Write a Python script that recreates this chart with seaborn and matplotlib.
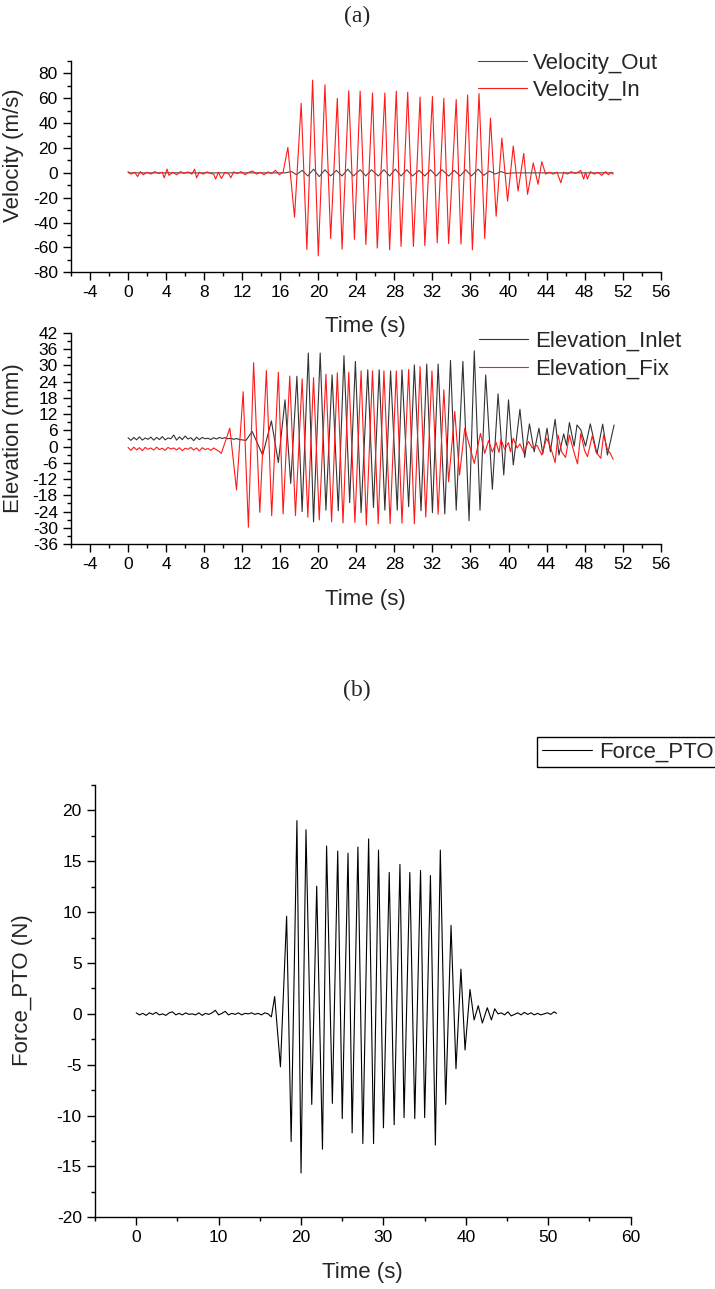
import numpy as np
import pandas as pd
import matplotlib
matplotlib.use("Agg")
import matplotlib.pyplot as plt
from matplotlib.ticker import MultipleLocator
import seaborn as sns

# ---------------- data ----------------
# Panel (a) top: Velocity_In (red)
VIN_NOISE_T = [0.0, 0.3, 0.7, 1.0, 1.3, 1.6, 2.0, 2.4, 2.8, 3.2, 3.6, 3.8, 4.1, 4.3, 4.7, 5.1,
               5.5, 5.9, 6.3, 6.7, 7.0, 7.2, 7.5, 7.9, 8.3, 8.7, 9.0, 9.2, 9.5, 9.8, 10.2, 10.6,
               10.8, 11.1, 11.5, 11.9, 12.3, 12.7, 13.1, 13.5, 13.9, 14.3, 14.7, 15.1, 15.5,
               15.9, 16.3]
VIN_NOISE_V = [1.0, -1.0, 0.5, -3.0, 1.0, -1.5, 0.5, -1.0, 1.0, -0.5, 0.5, -4.0, 3.0, -2.0, 0.5,
               -1.5, 1.0, -0.5, 0.8, -1.0, 3.0, -4.0, 0.5, -1.0, 0.8, -0.5, -1.0, -5.0, 0.5, -4.5,
               0.5, -1.0, -4.0, 0.8, -0.5, 1.0, -1.5, 0.5, 1.5, -1.0, 0.5, -1.5, 0.8, -0.5, 2.0,
               -1.5, 0.5]
VIN_WAVE_T = [16.8, 17.5, 18.2, 18.8, 19.4, 20.0, 20.7, 21.3, 22.0, 22.5, 23.2, 23.8, 24.4, 25.0,
              25.7, 26.2, 27.0, 27.5, 28.2, 28.7, 29.4, 30.0, 30.7, 31.2, 32.0, 32.5, 33.2, 33.7,
              34.5, 35.0, 35.7, 36.2, 36.9, 37.5, 38.1, 38.7, 39.3, 39.9, 40.5, 41.0, 41.6, 42.0,
              42.6, 43.1, 43.5]
VIN_WAVE_V = [20.5, -35.7, 56.0, -61.6, 74.6, -66.8, 70.8, -52.7, 60.0, -61.4, 66.0, -53.5, 65.7,
              -57.6, 64.3, -60.5, 64.3, -61.9, 65.7, -59.2, 64.9, -59.2, 61.0, -58.6, 61.4, -56.2,
              60.0, -56.8, 59.0, -57.3, 62.7, -61.9, 63.8, -52.7, 44.0, -34.9, 28.0, -22.7, 21.6,
              -14.6, 15.7, -17.3, 8.0, -9.2, 9.0]
VIN_TAIL_T = [43.9, 44.3, 44.7, 45.1, 45.5, 45.8, 46.2, 46.6, 47.0, 47.4, 47.6, 47.9, 48.1, 48.3,
              48.6, 49.0, 49.4, 49.8, 50.2, 50.5, 50.8, 51.0]
VIN_TAIL_V = [-1.0, 0.5, -1.0, 0.5, -8.0, 0.5, -1.0, 1.0, -0.5, 1.0, 2.0, -5.0, 0.5, -5.0, 1.0,
              -1.0, 0.5, -2.0, 1.0, -1.5, 0.5, -1.0]

# Panel (a) top: Velocity_Out (dark grey)
VOUT_T = [0.0, 16.5, 17.2, 17.7, 18.3, 18.9, 19.5, 20.1, 20.7, 21.3, 21.9, 22.5, 23.1, 23.7, 24.4,
          25.0, 25.6, 26.3, 26.9, 27.5, 28.1, 28.7, 29.3, 29.9, 30.6, 31.2, 31.8, 32.4, 33.0,
          33.7, 34.3, 34.9, 35.5, 36.1, 36.8, 37.4, 38.0, 38.6, 39.2, 39.8, 40.5, 51.0]
VOUT_V = [0.0, 0.0, 1.0, -1.5, 2.0, -2.5, 3.0, -3.0, 2.5, -2.5, 2.0, -2.5, 3.0, -2.5, 2.5, -2.5,
          2.5, -2.5, 2.5, -2.5, 3.0, -2.5, 2.5, -2.5, 2.0, -2.5, 2.5, -2.5, 2.5, -2.5, 2.0, -2.5,
          2.5, -2.5, 3.0, -2.0, 1.5, -1.0, 1.0, -0.5, 0.0, 0.0]

# Panel (a) bottom: Elevation_Inlet (black)
EIN_NOISE_T = [0.0, 0.3, 0.6, 0.9, 1.2, 1.5, 1.8, 2.1, 2.4, 2.7, 3.0, 3.3, 3.6, 3.9, 4.2, 4.5,
               4.8, 5.1, 5.4, 5.7, 6.0, 6.3, 6.6, 6.9, 7.2, 7.5, 7.8, 8.1, 8.4, 8.7, 9.0, 9.3,
               9.6, 9.9, 10.2, 10.5, 10.8, 11.1, 11.4, 11.7, 12.0]
EIN_NOISE_V = [3.3, 2.3, 3.4, 2.5, 3.6, 2.4, 3.2, 2.7, 3.5, 2.4, 3.4, 2.6, 3.7, 2.5, 3.2, 2.9,
               4.3, 2.4, 3.6, 2.6, 3.9, 2.8, 3.3, 2.2, 3.5, 2.6, 3.4, 2.9, 3.1, 2.6, 3.3, 2.8,
               3.4, 3.0, 3.3, 2.9, 3.1, 2.7, 3.0, 2.6, 2.5]
EIN_WAVE_T = [12.4, 13.05, 14.15, 15.07, 15.8, 16.5, 17.1, 17.75, 18.3, 18.95, 19.5, 20.2, 20.8,
              21.45, 22.1, 22.7, 23.3, 23.9, 24.5, 25.2, 25.8, 26.4, 27.0, 27.6, 28.3, 28.8,
              29.5, 30.1, 30.8, 31.4, 32.0, 32.6, 33.3, 33.9, 34.5, 35.2, 35.85, 36.4, 37.0,
              37.6, 38.3, 38.9, 39.5, 40.0, 40.5, 41.2, 41.7, 42.2, 42.7, 43.2, 43.6, 44.05,
              44.4, 44.9, 45.3, 45.8, 46.1, 46.4, 46.9, 47.2, 47.6, 48.1, 48.6, 49.3, 49.9,
              50.4, 51.1]
EIN_WAVE_V = [2.3, 5.6, -3.1, 9.5, -5.9, 17.3, -13.6, 26.0, -24.0, 34.6, -27.8, 34.6, -23.5,
              26.5, -23.7, 33.6, -20.7, 31.5, -24.4, 28.4, -22.5, 28.4, -23.5, 28.0, -23.5, 28.4,
              -22.2, 30.2, -23.7, 30.5, -24.4, 30.5, -24.9, 31.9, -23.5, 31.5, -27.4, 35.4,
              -23.5, 26.5, -15.8, 19.5, -10.5, 17.3, -6.8, 13.8, -4.0, 8.4, -1.9, 6.8, -2.7,
              6.8, -1.9, 10.1, -3.1, 4.7, 0.5, 8.9, 0.2, 8.0, 6.2, 0.2, 8.4, -2.7, 8.3, -3.1,
              8.0]

# Panel (a) bottom: Elevation_Fix (red)
EFIX_NOISE_T = [0.0, 0.3, 0.6, 0.9, 1.2, 1.5, 1.8, 2.1, 2.4, 2.7, 3.0, 3.3, 3.6, 3.9, 4.2, 4.5,
                4.8, 5.1, 5.4, 5.7, 6.0, 6.3, 6.6, 6.9, 7.2, 7.5, 7.8, 8.1, 8.4, 8.7, 9.0, 9.3,
                9.6]
EFIX_NOISE_V = [-0.3, -1.4, -0.2, -1.2, -0.4, -1.5, -0.3, -1.0, -0.5, -1.3, -0.2, -1.1, -0.6,
                -1.4, -0.3, -0.9, -0.5, -1.2, -0.4, -1.5, -0.6, -1.0, -0.3, -1.3, -0.5, -1.6,
                -0.4, -1.1, -0.7, -1.4, -0.5, -1.2, -1.8]
EFIX_WAVE_T = [9.8, 10.7, 11.4, 12.1, 12.65, 13.2, 13.85, 14.54, 15.1, 15.8, 16.3, 17.0, 17.6,
               18.3, 18.9, 19.5, 20.1, 20.8, 21.4, 22.0, 22.6, 23.2, 23.85, 24.5, 25.05, 25.7,
               26.3, 26.9, 27.55, 28.2, 28.8, 29.5, 30.1, 30.7, 31.3, 31.95, 32.6, 33.2, 33.7,
               34.35, 34.85, 35.4, 36.4]
EFIX_WAVE_V = [-2.5, 6.8, -16.0, 20.3, -29.8, 31.0, -24.3, 28.1, -25.5, 27.5, -24.9, 26.1, -25.5,
               25.0, -26.1, 25.5, -27.1, 26.8, -27.8, 27.3, -28.2, 27.5, -28.0, 28.0, -29.0,
               28.0, -28.5, 28.0, -28.5, 28.0, -28.3, 28.5, -28.5, 29.6, -26.0, 28.0, -25.0,
               21.0, -13.0, 13.0, -10.5, 6.8, -6.2]
EFIX_TAIL_T = [37.05, 37.5, 37.9, 38.3, 38.7, 39.0, 39.2, 39.6, 40.0, 40.2, 40.5, 40.9, 41.2,
               41.6, 42.1, 42.5, 43.0, 43.5, 44.0, 44.4, 44.9, 45.2, 45.6, 46.0, 46.4, 46.8,
               47.25, 47.6, 48.0, 48.3, 48.8, 49.2, 49.7, 50.0, 50.4, 50.7, 51.0]
EFIX_TAIL_V = [4.9, -2.5, 2.2, -2.0, 1.5, -2.2, 2.7, -1.0, 1.5, -1.9, 3.1, -0.5, 1.0, -2.2, 1.9,
               -0.5, 0.5, -3.1, 3.1, 0.0, -5.9, 4.3, -2.0, -4.0, 4.3, -1.0, -6.4, 4.9, -1.5,
               -3.7, 4.0, -2.0, -4.3, 4.3, -1.0, -2.5, -4.7]

# Panel (b): Force_PTO (black)
FPTO_NOISE_T = [0.0, 0.4, 0.8, 1.2, 1.6, 2.0, 2.4, 2.8, 3.2, 3.6, 4.0, 4.4, 4.8, 5.2, 5.6, 6.0,
                6.4, 6.8, 7.2, 7.6, 8.0, 8.4, 8.8, 9.2, 9.6, 10.0, 10.4, 10.8, 11.2, 11.6, 12.0,
                12.4, 12.8, 13.2, 13.6, 14.0, 14.4, 14.8, 15.2, 15.6, 16.0]
FPTO_NOISE_V = [0.1, -0.1, 0.05, -0.15, 0.1, -0.05, 0.15, -0.1, 0.0, -0.15, 0.1, 0.2, -0.1, 0.05,
                -0.1, 0.1, -0.05, 0.0, -0.1, 0.1, -0.15, 0.05, -0.05, 0.1, 0.35, -0.1, 0.05,
                0.25, -0.1, 0.05, -0.05, 0.1, -0.1, 0.05, 0.0, 0.1, -0.05, 0.05, -0.1, 0.1, 0.0]
FPTO_WAVE_T = [16.4, 16.8, 17.5, 18.25, 18.8, 19.5, 20.0, 20.6, 21.3, 21.9, 22.6, 23.1, 23.8,
               24.45, 25.0, 25.7, 26.2, 26.9, 27.5, 28.2, 28.8, 29.4, 30.0, 30.7, 31.3, 32.0,
               32.5, 33.2, 33.8, 34.5, 35.0, 35.7, 36.3, 36.9, 37.55, 38.2, 38.8, 39.4, 39.9,
               40.5, 41.0, 41.5, 42.0, 42.6, 43.1, 43.5]
FPTO_WAVE_V = [-0.3, 1.7, -5.2, 9.6, -12.55, 19.0, -15.65, 18.1, -8.9, 12.55, -13.3, 16.5, -8.8,
               16.0, -10.3, 15.8, -11.7, 16.4, -12.75, 17.2, -12.75, 16.1, -11.2, 13.9, -10.9,
               14.7, -10.2, 13.9, -10.3, 14.1, -10.2, 13.6, -12.9, 16.1, -8.9, 8.7, -5.4, 4.4,
               -3.55, 2.4, -0.6, 0.8, -0.9, 0.6, -0.6, 0.5]
FPTO_TAIL_T = [43.9, 44.3, 44.7, 45.1, 45.5, 45.9, 46.3, 46.7, 47.1, 47.5, 47.9, 48.3, 48.7, 49.1,
               49.5, 49.9, 50.3, 50.7, 51.0]
FPTO_TAIL_V = [0.0, 0.1, -0.1, 0.2, -0.2, -0.05, 0.1, -0.1, 0.15, -0.05, 0.1, -0.1, 0.05, -0.1,
               0.0, 0.1, -0.05, 0.2, 0.05]

LABELS_A1 = ["Velocity_Out", "Velocity_In"]
LABELS_A2 = ["Elevation_Inlet", "Elevation_Fix"]
LABEL_B = "Force_PTO"


def series(*parts):
    t = np.concatenate([np.asarray(p[0], float) for p in parts])
    v = np.concatenate([np.asarray(p[1], float) for p in parts])
    return pd.DataFrame({"t": t, "v": v})


vel_in = series((VIN_NOISE_T, VIN_NOISE_V), (VIN_WAVE_T, VIN_WAVE_V), (VIN_TAIL_T, VIN_TAIL_V))
vel_out = series((VOUT_T, VOUT_V))
el_in = series((EIN_NOISE_T, EIN_NOISE_V), (EIN_WAVE_T, EIN_WAVE_V))
el_fix = series((EFIX_NOISE_T, EFIX_NOISE_V), (EFIX_WAVE_T, EFIX_WAVE_V), (EFIX_TAIL_T, EFIX_TAIL_V))
force = series((FPTO_NOISE_T, FPTO_NOISE_V), (FPTO_WAVE_T, FPTO_WAVE_V), (FPTO_TAIL_T, FPTO_TAIL_V))

# ---------------- style ----------------
sns.set_theme(style="ticks")
plt.rcParams["font.family"] = ["Liberation Sans", "DejaVu Sans"]
plt.rcParams["axes.unicode_minus"] = False

W, H = 715, 1289
fig = plt.figure(figsize=(W / 100, H / 100), dpi=100)


def px_axes(left, top, right, bottom):
    return fig.add_axes([left / W, 1 - bottom / H, (right - left) / W, (bottom - top) / H])


def style_axes(ax, xmaj, xmin, ymaj, ymin, tick_fs=12.5):
    for s in ["top", "right"]:
        ax.spines[s].set_visible(False)
    for s in ["left", "bottom"]:
        ax.spines[s].set_color("black")
        ax.spines[s].set_linewidth(1.0)
    ax.xaxis.set_major_locator(MultipleLocator(xmaj))
    ax.xaxis.set_minor_locator(MultipleLocator(xmin))
    ax.yaxis.set_major_locator(MultipleLocator(ymaj))
    ax.yaxis.set_minor_locator(MultipleLocator(ymin))
    ax.tick_params(which="major", direction="out", length=5.5, width=1.0, color="black",
                   labelsize=tick_fs, pad=4, labelcolor="black")
    ax.tick_params(which="minor", direction="out", length=2.8, width=1.0, color="black")
    ax.grid(False)
    ax.patch.set_visible(False)


RED = "#ff1a1a"
LW = 0.8

# ---- panel (a) top ----
ax1 = px_axes(71, 61, 660.7, 272.3)
sns.lineplot(data=vel_out, x="t", y="v", ax=ax1, color="#4a4a4a", lw=LW, sort=False,
             estimator=None, label=LABELS_A1[0])
sns.lineplot(data=vel_in, x="t", y="v", ax=ax1, color=RED, lw=LW, sort=False,
             estimator=None, label=LABELS_A1[1])
ax1.set_xlim(-6, 56)
ax1.set_ylim(-80, 90)
style_axes(ax1, 4, 2, 20, 10)
ax1.set_xticks(np.arange(-4, 57, 4))
ax1.set_xlabel("Time (s)", fontsize=16)
ax1.set_ylabel("Velocity (m/s)", fontsize=16)
ax1.xaxis.set_label_coords(0.5, -0.2575)
ax1.xaxis.label.set_va("center")
ax1.yaxis.set_label_coords(-0.0967, 0.555)
ax1.yaxis.label.set_va("center")
ax1.legend(loc="upper left", bbox_to_anchor=(477.7 / W, 1 - 53 / H), bbox_transform=fig.transFigure,
           frameon=False, borderpad=0, borderaxespad=0, handlelength=2.2, handletextpad=0.3,
           labelspacing=0.28, fontsize=16)

# ---- panel (a) bottom ----
ax2 = px_axes(71, 333, 660.7, 544)
sns.lineplot(data=el_in, x="t", y="v", ax=ax2, color="#333333", lw=LW, sort=False,
             estimator=None, label=LABELS_A2[0])
sns.lineplot(data=el_fix, x="t", y="v", ax=ax2, color=RED, lw=LW, sort=False,
             estimator=None, label=LABELS_A2[1])
ax2.set_xlim(-6, 56)
ax2.set_ylim(-36, 42)
style_axes(ax2, 4, 2, 6, 3)
ax2.set_xticks(np.arange(-4, 57, 4))
ax2.set_yticks(np.arange(-36, 43, 6))
ax2.set_xlabel("Time (s)", fontsize=16)
ax2.set_ylabel("Elevation (mm)", fontsize=16)
ax2.xaxis.set_label_coords(0.5, -0.265)
ax2.xaxis.label.set_va("center")
ax2.yaxis.set_label_coords(-0.097, 0.502)
ax2.yaxis.label.set_va("center")
ax2.legend(loc="upper left", bbox_to_anchor=(479.3 / W, 1 - 331 / H), bbox_transform=fig.transFigure,
           frameon=False, borderpad=0, borderaxespad=0, handlelength=2.2, handletextpad=0.3,
           labelspacing=0.3, fontsize=16)

# ---- panel (b) ----
ax3 = px_axes(95, 785, 630.7, 1217.3)
sns.lineplot(data=force, x="t", y="v", ax=ax3, color="black", lw=LW, sort=False,
             estimator=None, label=LABEL_B)
ax3.set_xlim(-5, 60)
ax3.set_ylim(-20, 22.5)
style_axes(ax3, 10, 5, 5, 2.5)
ax3.set_xticks(np.arange(0, 61, 10))
ax3.set_yticks(np.arange(-20, 21, 5))
ax3.set_xlabel("Time (s)", fontsize=16)
ax3.set_ylabel("Force_PTO (N)", fontsize=16)
ax3.xaxis.set_label_coords(0.5, -0.127)
ax3.xaxis.label.set_va("center")
ax3.yaxis.set_label_coords(-0.136, 0.525)
ax3.yaxis.label.set_va("center")
leg = ax3.legend(loc="upper left", bbox_to_anchor=(537.3 / W, 1 - 736.7 / H),
                 bbox_transform=fig.transFigure, frameon=True, fancybox=False, edgecolor="black",
                 framealpha=1, borderpad=0.22, borderaxespad=0, handlelength=2.25,
                 handletextpad=0.3, fontsize=16)
leg.get_frame().set_linewidth(1.0)

# panel titles
fig.text(357 / W, 1 - 16 / H, "(a)", ha="center", va="center", fontsize=17,
         family=["Liberation Serif", "DejaVu Serif"])
fig.text(357 / W, 1 - 690 / H, "(b)", ha="center", va="center", fontsize=17,
         family=["Liberation Serif", "DejaVu Serif"])

fig.savefig("out.png", dpi=100, facecolor="white")
